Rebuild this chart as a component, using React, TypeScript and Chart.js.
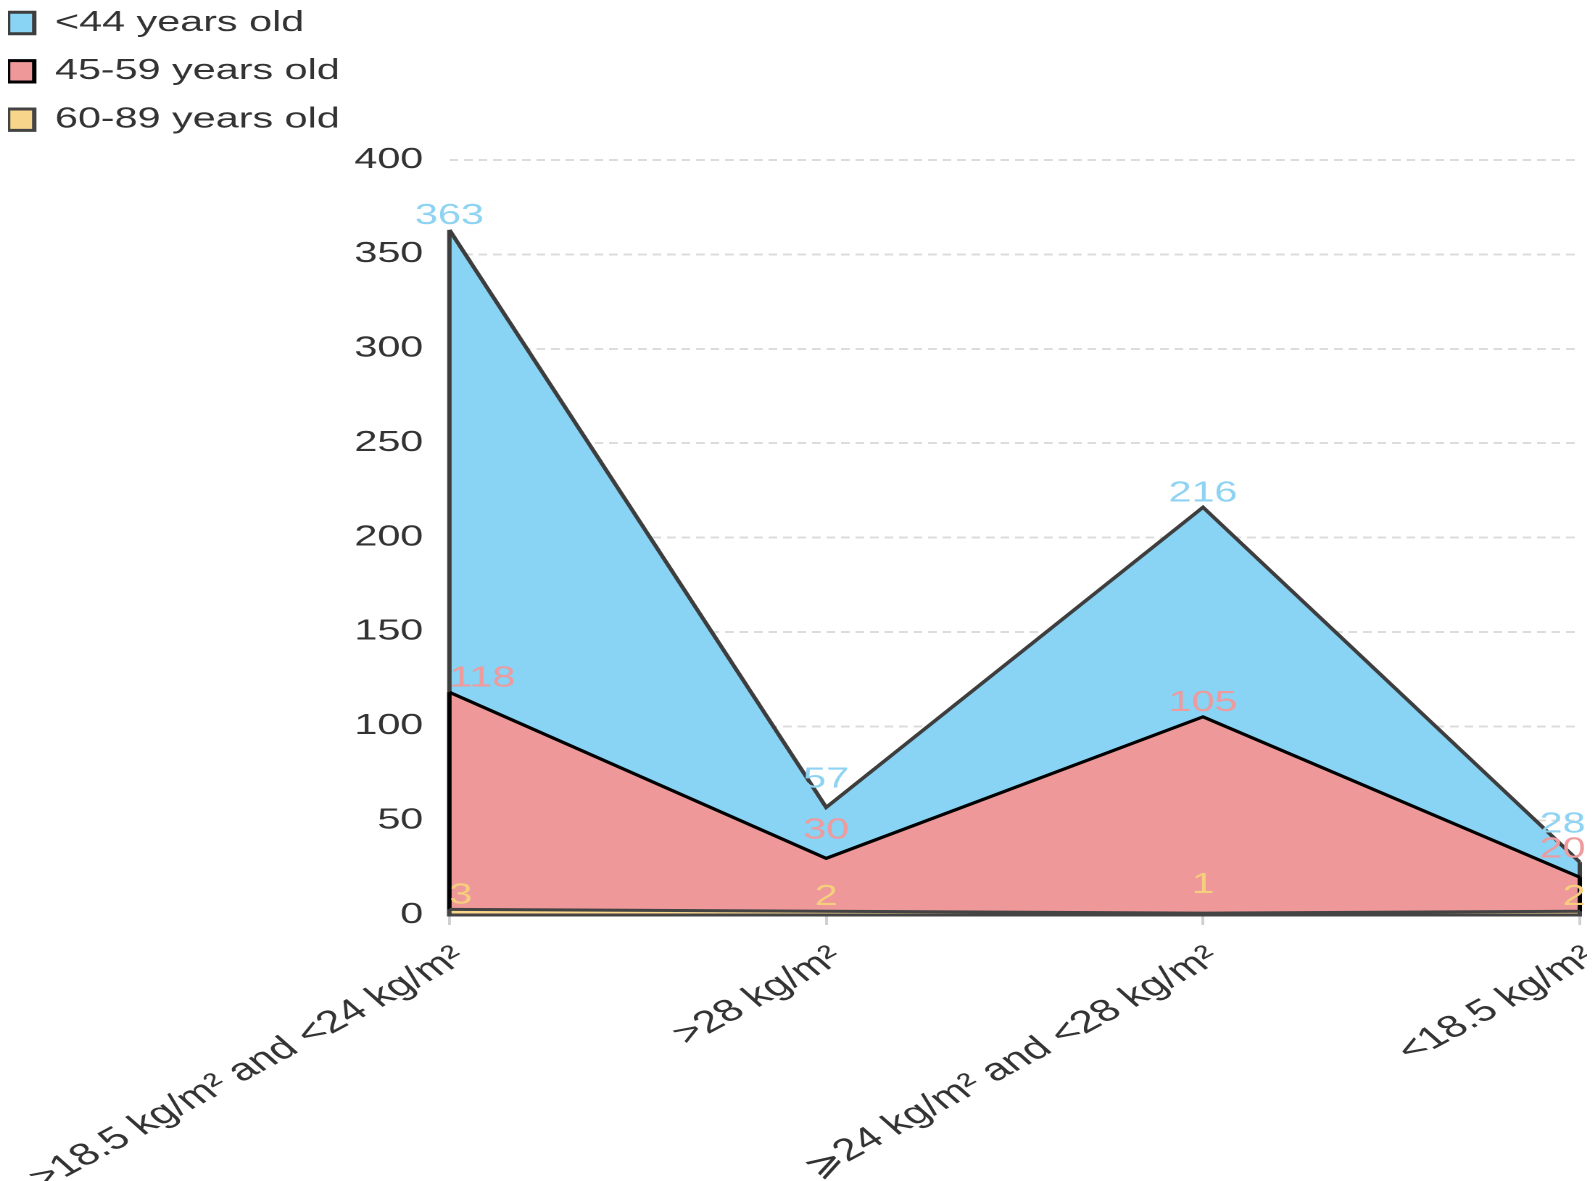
import React, { useEffect, useRef } from 'react';
import { Chart, registerables } from 'chart.js';

Chart.register(...registerables);

const bmiGroups = ['>18.5 kg/m² and <24 kg/m²', '>28 kg/m²', '⩾24 kg/m² and <28 kg/m²', '<18.5 kg/m²'];
const seriesNames = ['<44 years old', '45-59 years old', '60-89 years old'];
const under44 = [363, 57, 216, 28];
const age45to59 = [118, 30, 105, 20];
const age60to89 = [3, 2, 1, 2];
const yTicks = [0, 50, 100, 150, 200, 250, 300, 350, 400];

const fillColors = ['#89d3f4', '#ee989a', '#f7d58b'];
const lineColors = ['#3d3d3d', '#000000', '#444444'];
const labelColors = ['#8fd3f3', '#ef9a9d', '#f5cf7d'];

const FONT = '"Liberation Sans", Arial, sans-serif';
// the reference is drawn wider than it is tall, so the canvas is stretched sideways
const STRETCH = 1.45;
const WIDTH = 1108;
const HEIGHT = 1186;
const PAD_LEFT = -19.75;
const PLOT_LEFT = 304.4;
const PLOT_TOP = 152;
const AXIS_HEIGHT = 279;

// closes each area: vertical edges at both ends plus the baseline
const areaOutline = {
  id: 'areaOutline',
  afterDatasetDraw(chart: any, args: any) {
    const pts = args.meta.data;
    if (!pts.length) return;
    const ds = chart.data.datasets[args.index];
    const y0 = chart.scales.y.getPixelForValue(0);
    const last = pts[pts.length - 1];
    const ctx = chart.ctx;
    ctx.save();
    ctx.strokeStyle = ds.borderColor;
    ctx.lineWidth = ds.borderWidth;
    ctx.lineJoin = 'miter';
    ctx.beginPath();
    ctx.moveTo(pts[0].x, pts[0].y);
    ctx.lineTo(pts[0].x, y0);
    ctx.lineTo(last.x, y0);
    ctx.lineTo(last.x, last.y);
    ctx.stroke();
    ctx.restore();
  },
};

// value labels above every point
const valueLabels = {
  id: 'valueLabels',
  afterDatasetsDraw(chart: any) {
    const ctx = chart.ctx;
    const area = chart.chartArea;
    const taken: { [i: number]: number } = {};
    ctx.save();
    ctx.font = `28.5px ${FONT}`;
    ctx.textBaseline = 'alphabetic';
    for (let di = chart.data.datasets.length - 1; di >= 0; di--) {
      const ds = chart.data.datasets[di];
      const pts = chart.getDatasetMeta(di).data;
      pts.forEach((pt: any, i: number) => {
        const v = ds.data[i];
        const prev = ds.data[i - 1];
        const next = ds.data[i + 1];
        const dip = (prev === undefined || v < prev) && (next === undefined || v < next);
        let y = pt.y - (dip ? 20 : 6);
        if (taken[i] !== undefined && y > taken[i] - 4) y = taken[i] - 4;
        taken[i] = y - 21;
        let x = pt.x;
        let align = 'center';
        if (i === 0 && di > 0) {
          x = area.left;
          align = 'left';
        }
        if (i === pts.length - 1) {
          x = pt.x + 4;
          align = 'right';
        }
        ctx.fillStyle = labelColors[di];
        ctx.textAlign = align;
        ctx.fillText(String(v), x, y);
      });
    }
    ctx.restore();
  },
};

export default function App() {
  const canvasRef = useRef<HTMLCanvasElement>(null);

  useEffect(() => {
    if (!canvasRef.current) return;

    const series = [under44, age45to59, age60to89];
    const chart = new Chart(canvasRef.current, {
      type: 'line',
      data: {
        labels: bmiGroups,
        datasets: series.map((data, i) => ({
          label: seriesNames[i],
          data,
          order: 3 - i, // first series drawn at the back
          fill: 'origin',
          backgroundColor: fillColors[i],
          borderColor: lineColors[i],
          borderWidth: 3,
          borderJoinStyle: 'miter' as const,
          pointRadius: 0,
          pointHoverRadius: 0,
          tension: 0,
          clip: false as any,
        })),
      },
      options: {
        animation: false,
        responsive: false,
        devicePixelRatio: 2,
        events: [],
        layout: { padding: { top: -19.1, left: PAD_LEFT, right: 24, bottom: 0 } },
        plugins: {
          legend: {
            position: 'left',
            align: 'start',
            labels: {
              boxWidth: 18,
              boxHeight: 21.4,
              padding: 19.85,
              color: '#333',
              font: { family: FONT, size: 28.5 },
              sort: (a: any, b: any) => a.datasetIndex - b.datasetIndex,
            },
          },
          tooltip: { enabled: false },
        },
        scales: {
          x: {
            grid: {
              drawOnChartArea: false,
              drawTicks: true,
              tickLength: 10,
              tickColor: '#d0d0d0',
              tickWidth: 2,
            },
            border: { color: '#a8a8a8', width: 2 },
            ticks: {
              color: '#333',
              font: { family: FONT, size: 31 },
              minRotation: 38,
              maxRotation: 38,
              autoSkip: false,
              padding: 14,
              labelOffset: 8,
            },
            afterFit: (s: any) => {
              s.height = AXIS_HEIGHT;
              s.paddingLeft = 0;
              s.paddingRight = 0;
            },
          },
          y: {
            min: 0,
            max: 400,
            afterBuildTicks: (s: any) => {
              s.ticks = yTicks.map((value) => ({ value }));
            },
            grid: { color: '#dcdcdc', lineWidth: 2, drawTicks: false },
            border: { display: false, dash: [6, 4] },
            ticks: {
              color: '#333',
              font: { family: FONT, size: 28.5 },
              padding: 18,
            },
            afterFit: (s: any) => {
              s.width = PLOT_LEFT - PAD_LEFT - (s.chart.legend ? s.chart.legend.width : 0);
              s.paddingTop = PLOT_TOP;
              s.paddingBottom = 0;
            },
          },
        },
      },
      plugins: [areaOutline, valueLabels],
    });

    return () => chart.destroy();
  }, []);

  return (
    <div
      style={{
        width: WIDTH,
        height: HEIGHT,
        overflow: 'hidden',
        transform: `scaleX(${STRETCH})`,
        transformOrigin: '0 0',
      }}
    >
      <canvas ref={canvasRef} width={WIDTH} height={HEIGHT} style={{ display: 'block' }}></canvas>
    </div>
  );
}
